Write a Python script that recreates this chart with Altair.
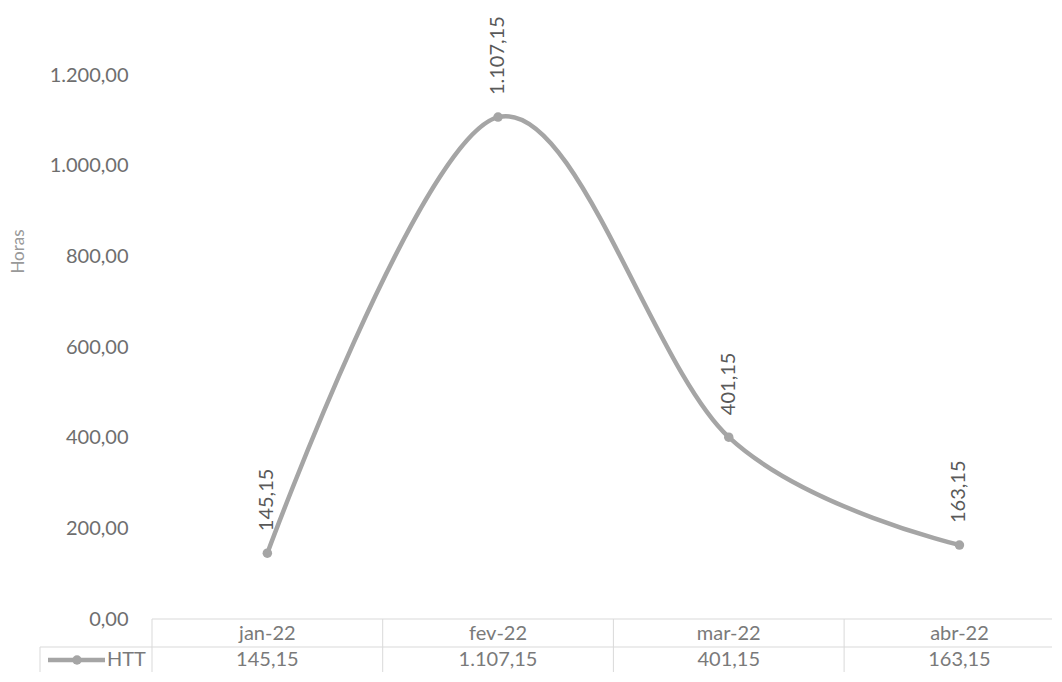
import altair as alt
import pandas as pd

# ---- data ----
months = ["jan-22", "fev-22", "mar-22", "abr-22"]
htt = [145.15, 1107.15, 401.15, 163.15]
series_name = "HTT"
y_ticks = [0, 200, 400, 600, 800, 1000, 1200]

df = pd.DataFrame({"idx": list(range(len(months))), "mes": months, "htt": htt})

FONT = "Lato"
FS = 20
LINE_COL = "#a5a5a5"
GRID_COL = "#d9d9d9"

W, H = 900, 544
XDOM = [-0.5, -0.5 + W / 230.7]   # last column runs past the right edge, as in the reference

base = alt.Chart(df)
xs = alt.Scale(domain=XDOM, nice=False, zero=False)
xq = alt.X("idx:Q", scale=xs, axis=None)
yq = alt.Y("htt:Q",
           scale=alt.Scale(domain=[0, 1200], nice=False),
           axis=alt.Axis(values=y_ticks, format=",.2f", title="Horas"))

line = base.mark_line(color=LINE_COL, strokeWidth=4.5, interpolate="cardinal", clip=True).encode(x=xq, y=yq)
pts = base.mark_point(filled=True, color=LINE_COL, size=90, opacity=1).encode(x=xq, y=alt.Y("htt:Q"))
labels = base.mark_text(angle=270, align="left", baseline="middle", dx=22, font=FONT,
                        fontSize=FS, color="#595959").encode(
    x=xq, y=alt.Y("htt:Q"), text=alt.Text("htt:Q", format=",.2f"))

# ---- data table under the plot ----
row1 = base.mark_text(font=FONT, fontSize=FS, color="#7a7a7a", baseline="middle").encode(
    x=xq, y=alt.value(559), text="mes:N")
row2 = base.mark_text(font=FONT, fontSize=FS, color="#7a7a7a", baseline="middle").encode(
    x=xq, y=alt.value(585), text=alt.Text("htt:Q", format=",.2f"))

vlines = base.transform_calculate(b="datum.idx - 0.5").mark_rule(color=GRID_COL, strokeWidth=1).encode(
    x=alt.X("b:Q", scale=xs, axis=None),
    y=alt.value(544), y2=alt.value(604))

hdr = pd.DataFrame({"k": [0]})
hb = alt.Chart(hdr)
top_line = hb.mark_rule(color=GRID_COL, strokeWidth=1).encode(x=alt.value(0), x2=alt.value(W), y=alt.value(544))
mid_line = hb.mark_rule(color=GRID_COL, strokeWidth=1).encode(x=alt.value(-112), x2=alt.value(W), y=alt.value(572))
left_line = hb.mark_rule(color=GRID_COL, strokeWidth=1).encode(x=alt.value(-112), y=alt.value(572), y2=alt.value(604))

leg_line = hb.mark_rule(color=LINE_COL, strokeWidth=4.5).encode(x=alt.value(-104), x2=alt.value(-47), y=alt.value(585))
leg_pt = hb.mark_point(filled=True, color=LINE_COL, size=90, opacity=1).encode(x=alt.value(-75), y=alt.value(585))
leg_txt = hb.transform_calculate(t=f"'{series_name}'").mark_text(
    font=FONT, fontSize=FS, color="#7a7a7a", align="left", baseline="middle").encode(
    x=alt.value(-45), y=alt.value(585), text="t:N")

chart = alt.layer(
    top_line, mid_line, left_line, vlines,
    line, pts, labels, row1, row2, leg_line, leg_pt, leg_txt
).properties(
    width=W, height=H,
    autosize=alt.AutoSizeParams(type="none"),
    padding={"left": 144, "top": 67, "right": 0, "bottom": 53},
).configure(
    locale={"number": {"decimal": ",", "thousands": ".", "grouping": [3], "currency": ["R$", ""]}},
    view=alt.ViewConfig(stroke=None),
    axisY=alt.AxisConfig(
        domain=False, ticks=False, grid=False,
        labelFont=FONT, labelFontSize=FS, labelColor="#6e6e6e", labelPadding=24,
        titleFont=FONT, titleFontSize=17, titleFontWeight="normal", titleColor="#999999",
        titleX=-134, titleY=176, titleAngle=270, titleAlign="center", titleBaseline="middle",
    ),
)

chart.save("out.html", embed_options={"renderer": "svg", "actions": False})
